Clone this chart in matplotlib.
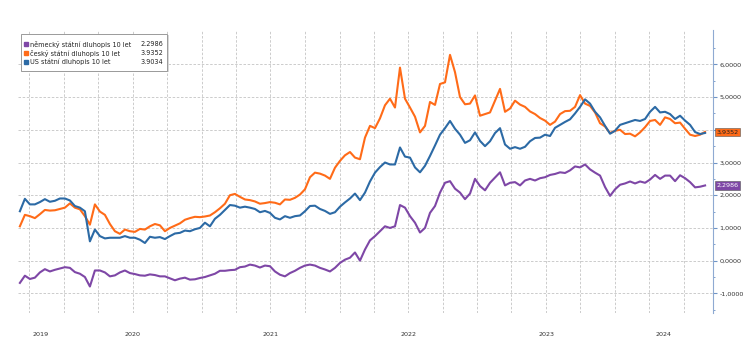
import numpy as np
import pandas as pd
import matplotlib
matplotlib.use("Agg")
import matplotlib.pyplot as plt
import matplotlib.dates as mdates
import matplotlib.transforms as mtransforms
from matplotlib.patches import Rectangle

# 10y government bond yields, sampled roughly every two weeks
start, end = "2019-09-06", "2024-08-27"

us_10y = [
    1.51, 1.89, 1.72, 1.72, 1.79, 1.88, 1.80, 1.83, 1.90, 1.90,
    1.84, 1.67, 1.62, 1.51, 0.59, 0.95, 0.75, 0.68, 0.70, 0.70,
    0.70, 0.75, 0.70, 0.70, 0.64, 0.54, 0.73, 0.70, 0.72, 0.66,
    0.75, 0.83, 0.85, 0.92, 0.90, 0.96, 1.00, 1.16, 1.05, 1.28,
    1.40, 1.55, 1.70, 1.68, 1.62, 1.65, 1.62, 1.58, 1.48, 1.52,
    1.46, 1.31, 1.26, 1.36, 1.31, 1.36, 1.38, 1.51, 1.67, 1.68,
    1.58, 1.52, 1.43, 1.48, 1.65, 1.78, 1.90, 2.05, 1.85, 2.08,
    2.42, 2.69, 2.86, 3.00, 2.94, 2.94, 3.46, 3.18, 3.15, 2.85,
    2.70, 2.90, 3.20, 3.52, 3.85, 4.05, 4.27, 4.03, 3.85, 3.60,
    3.68, 3.92, 3.66, 3.50, 3.65, 3.90, 4.05, 3.55, 3.42, 3.47,
    3.42, 3.48, 3.65, 3.75, 3.76, 3.85, 3.81, 4.06, 4.15, 4.24,
    4.32, 4.50, 4.70, 4.93, 4.80, 4.55, 4.38, 4.12, 3.88, 3.97,
    4.15, 4.20, 4.25, 4.30, 4.27, 4.33, 4.55, 4.70, 4.53, 4.55,
    4.48, 4.33, 4.43, 4.28, 4.15, 3.93, 3.87, 3.9034,
]

cz_10y = [
    1.05, 1.40, 1.36, 1.30, 1.42, 1.55, 1.53, 1.54, 1.58, 1.62,
    1.75, 1.62, 1.57, 1.36, 1.10, 1.72, 1.50, 1.40, 1.12, 0.90,
    0.82, 0.95, 0.90, 0.88, 0.97, 0.95, 1.05, 1.12, 1.08, 0.90,
    1.00, 1.07, 1.14, 1.25, 1.30, 1.34, 1.33, 1.35, 1.38, 1.48,
    1.60, 1.74, 2.00, 2.04, 1.95, 1.87, 1.85, 1.81, 1.74, 1.76,
    1.79, 1.77, 1.72, 1.87, 1.86, 1.92, 2.02, 2.18, 2.55, 2.69,
    2.66, 2.60, 2.50, 2.84, 3.05, 3.22, 3.32, 3.15, 3.10, 3.76,
    4.12, 4.05, 4.35, 4.75, 4.95, 4.68, 5.90, 4.95, 4.68, 4.40,
    3.92, 4.12, 4.85, 4.76, 5.40, 5.45, 6.29, 5.76, 5.00, 4.78,
    4.80, 5.05, 4.43, 4.48, 4.53, 4.89, 5.25, 4.55, 4.65, 4.89,
    4.77, 4.70, 4.56, 4.48, 4.36, 4.28, 4.15, 4.25, 4.48, 4.57,
    4.58, 4.70, 5.06, 4.80, 4.73, 4.53, 4.20, 4.10, 3.90, 3.97,
    4.00, 3.87, 3.88, 3.80, 3.92, 4.08, 4.27, 4.30, 4.15, 4.38,
    4.33, 4.20, 4.22, 4.03, 3.85, 3.81, 3.85, 3.9352,
]

de_10y = [
    -0.68, -0.46, -0.56, -0.52, -0.36, -0.26, -0.33, -0.28, -0.24, -0.20,
    -0.22, -0.35, -0.40, -0.50, -0.79, -0.30, -0.30, -0.36, -0.48, -0.45,
    -0.36, -0.30, -0.38, -0.41, -0.45, -0.46, -0.42, -0.44, -0.48, -0.48,
    -0.54, -0.60, -0.55, -0.52, -0.58, -0.57, -0.53, -0.50, -0.45, -0.40,
    -0.31, -0.31, -0.29, -0.28, -0.20, -0.18, -0.12, -0.15, -0.21, -0.15,
    -0.17, -0.33, -0.43, -0.48, -0.38, -0.31, -0.22, -0.15, -0.12, -0.15,
    -0.22, -0.27, -0.33, -0.22, -0.07, 0.03, 0.09, 0.25, 0.00, 0.34,
    0.62, 0.75, 0.90, 1.05, 1.00, 1.05, 1.70, 1.62, 1.36, 1.16,
    0.86, 1.00, 1.46, 1.67, 2.08, 2.38, 2.43, 2.20, 2.08, 1.88,
    2.05, 2.50, 2.28, 2.15, 2.38, 2.54, 2.70, 2.30, 2.38, 2.40,
    2.30, 2.45, 2.50, 2.45, 2.52, 2.55, 2.62, 2.65, 2.70, 2.68,
    2.76, 2.88, 2.85, 2.94, 2.79, 2.69, 2.60, 2.25, 1.98, 2.18,
    2.32, 2.36, 2.42, 2.36, 2.42, 2.38, 2.48, 2.62, 2.50, 2.60,
    2.60, 2.43, 2.61, 2.52, 2.40, 2.24, 2.26, 2.2986,
]

names = ["německý státní dluhopis 10 let", "český státní dluhopis 10 let", "US státní dluhopis 10 let"]
last_values = ["2.2986", "3.9352", "3.9034"]
colors = ["#7E47A6", "#FF6B18", "#2C6AA5"]

dates = pd.date_range(start, end, periods=len(us_10y))
x0, x1 = pd.Timestamp("2019-09-01"), pd.Timestamp("2024-09-17")

fig = plt.figure(figsize=(7.55, 3.43), dpi=100)
ax = fig.add_axes([18 / 755, 30 / 343, 695 / 755, 283 / 343])

series = [de_10y, cz_10y, us_10y]
for vals, c in zip(series, colors):
    ax.plot(dates, vals, color=c, lw=1.5, solid_joinstyle="round")

ax.set_xlim(x0, x1)
ax.set_ylim(-1.6, 7.05)

# quarterly grid, year labels centred on the visible part of each year
ax.xaxis.set_major_locator(mdates.MonthLocator(bymonth=[1, 4, 7, 10]))
ax.xaxis.set_major_formatter(plt.NullFormatter())
years = range(x0.year, x1.year + 1)
mids = []
for y in years:
    a = max(pd.Timestamp(f"{y}-01-01"), x0)
    b = min(pd.Timestamp(f"{y + 1}-01-01"), x1)
    mids.append(mdates.date2num(a + (b - a) / 2))
ax.set_xticks(mids, minor=True)
ax.set_xticklabels([str(y) for y in years], minor=True)
ax.tick_params(axis="x", which="both", length=0, pad=14, labelsize=4.6, labelcolor="#333333")

# right axis; the 4,0000 label sits under the last-value tag
ax.yaxis.tick_right()
yt = np.arange(-1, 7)
ax.set_yticks(yt)
ax.set_yticks(np.arange(-1.5, 7.0, 0.5), minor=True)
ax.set_yticklabels(["" if v == 4 else f"{v:.4f}".replace(".", ",") for v in yt])
ax.tick_params(axis="y", which="major", length=3, width=0.8, color="#6F94C6",
               pad=1.5, labelsize=4.6, labelcolor="#333333")
ax.tick_params(axis="y", which="minor", length=1.5, width=0.6, color="#6F94C6")

ax.grid(True, which="major", color="#C4C4C4", lw=0.6, ls=(0, (3, 2)))
for s in ["top", "left", "bottom"]:
    ax.spines[s].set_visible(False)
ax.spines["right"].set_color("#8FAAD2")
ax.spines["right"].set_linewidth(0.8)

# last value tags on the right axis
trans = mtransforms.blended_transform_factory(ax.transAxes, ax.transData)
tags = [(float(last_values[1]), colors[1], "#222222"),
        (float(last_values[0]), colors[0], "white")]
for v, bg, fg in tags:
    ax.annotate(f"{v:.4f}".replace(".", ","), xy=(1, v), xycoords=trans,
                xytext=(2.5, 0), textcoords="offset points", ha="left", va="center",
                fontsize=4.6, color=fg, zorder=5, annotation_clip=False,
                bbox=dict(boxstyle="square,pad=0.25", fc=bg, ec="#555555", lw=0.4))

# legend box with right-aligned last values
ax.add_patch(Rectangle((0.0062, 0.851), 0.2105, 0.132, transform=ax.transAxes,
                       fc="#D8D8D8", ec="none", zorder=5))
ax.add_patch(Rectangle((0.0039, 0.856), 0.2105, 0.13, transform=ax.transAxes,
                       fc="white", ec="#9A9A9A", lw=0.7, zorder=6))
rows = [0.949, 0.918, 0.888]
for fy, name, val, c in zip(rows, names, last_values, colors):
    ax.plot([0.0118], [fy], marker="s", ms=3.2, color=c, transform=ax.transAxes,
            zorder=7, clip_on=False)
    ax.text(0.0173, fy, name, transform=ax.transAxes, ha="left", va="center",
            fontsize=4.7, color="#222222", zorder=7)
    ax.text(0.2095, fy, val, transform=ax.transAxes, ha="right", va="center",
            fontsize=4.7, color="#222222", zorder=7)

fig.savefig("out.png", dpi=100)
